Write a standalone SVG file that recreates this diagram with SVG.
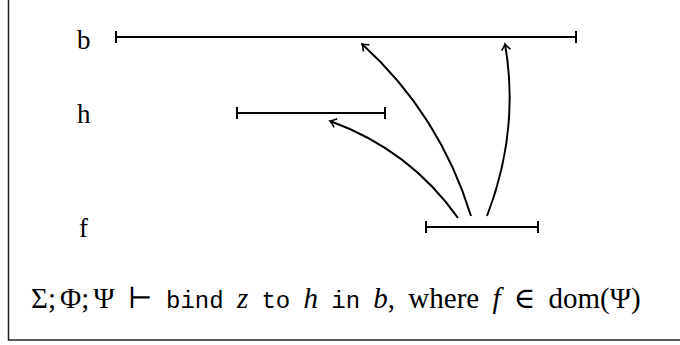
<svg xmlns="http://www.w3.org/2000/svg" width="680" height="345" viewBox="0 0 680 345">
<defs>
<style>
.lbl{font-family:"Liberation Serif","DejaVu Serif",serif;font-size:27px;fill:#000}
.cap{font-family:"Liberation Serif","DejaVu Serif",serif;font-size:29px;fill:#000;word-spacing:6px}
.bar{stroke:#000;stroke-width:2;fill:none}
.arr{stroke:#000;stroke-width:2;fill:none;marker-end:url(#ah)}
.it{font-style:italic}
.tt{font-family:"Liberation Mono","DejaVu Sans Mono",monospace;font-size:24px}
</style>
<marker id="ah" viewBox="-7 -6 9 12" refX="0" refY="0" markerWidth="9" markerHeight="12" markerUnits="userSpaceOnUse" orient="auto">
<path d="M-6,-4.5 Q-2.5,-1.2 0,0 Q-2.5,1.2 -6,4.5" stroke="#000" stroke-width="1.6" fill="none"/>
</marker>
</defs>
<rect x="8.5" y="-10" width="690" height="350" fill="#fff" stroke="#222" stroke-width="1.5"/>
<g id="node-b">
<text class="lbl" x="77" y="49">b</text>
<path class="bar" d="M116,37 H576 M116,31 V43 M576,31 V43"/>
</g>
<g id="node-h">
<text class="lbl" x="77" y="123">h</text>
<path class="bar" d="M237,113 H385 M237,107 V119 M385,107 V119"/>
</g>
<g id="node-f">
<text class="lbl" x="79" y="237">f</text>
<path class="bar" d="M426,227 H538 M426,221 V233 M538,221 V233"/>
</g>
<g id="connectors">
<path class="arr" d="M458,218 Q410,150 330,121"/>
<path class="arr" d="M471,216 Q440,115 362,44"/>
<path class="arr" d="M487,216 Q520,130 505,44"/>
</g>
<g id="caption">
<text class="cap" x="31" y="308">Σ;<tspan dx="4">Φ;</tspan><tspan dx="4">Ψ</tspan> ⊢ <tspan class="tt">bind</tspan> <tspan class="it">z</tspan> <tspan class="tt">to</tspan> <tspan class="it">h</tspan> <tspan class="tt">in</tspan> <tspan class="it">b</tspan>, where <tspan class="it">f</tspan> ∈ dom(Ψ)</text>
</g>
</svg>
